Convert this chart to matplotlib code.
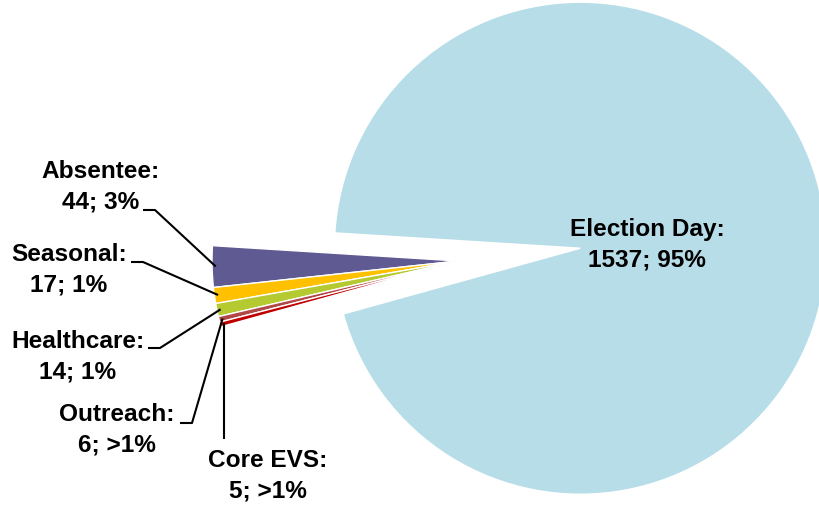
import numpy as np
import matplotlib
matplotlib.use('Agg')
from matplotlib import pyplot as plt

labels = ['Election Day', 'Absentee', 'Seasonal', 'Healthcare', 'Outreach', 'Core EVS']
values = [1537, 44, 17, 14, 6, 5]
pct_text = ['95%', '3%', '1%', '1%', '>1%', '>1%']
colors = ['#B7DDE8', '#5F5A91', '#FFC000', '#B5C930', '#B04848', '#C00000']

plt.rcParams['font.family'] = ['Liberation Sans Narrow', 'Liberation Sans', 'DejaVu Sans']

W, H = 819, 506
R = 246.0          # pie radius in pixels
cx, cy = 458, 262  # pie centre in pixels


def px(x, y):
    # pixel position -> data coordinates
    return (x - cx) / R, (cy - y) / R


fig = plt.figure(figsize=(W / 100, H / 100), dpi=100)
ax = fig.add_axes([0, 0, 1, 1])
wedges, _ = ax.pie(values, colors=colors, startangle=195.5, counterclock=True,
                   explode=[0.5, 0, 0, 0, 0, 0], radius=1,
                   wedgeprops=dict(edgecolor='white', linewidth=1.0))
x0, y1 = px(0, 0)
x1, y0 = px(W, H)
ax.set_xlim(x0, x1)
ax.set_ylim(y0, y1)
ax.set_aspect('equal')
ax.axis('off')

fs = 17.6
ls = 1.42
# big slice label
tx, ty = px(647, 245)
ax.text(tx, ty, f'{labels[0]}:\n{values[0]}; {pct_text[0]}', ha='center', va='center',
        fontsize=fs, fontweight='bold', linespacing=ls)

# small slice labels: text centre, start of leader, elbow
label_pos = {
    'Absentee': ((101, 187), (143, 211), (155, 211)),
    'Seasonal': ((69, 270), (131, 263), (143, 263)),
    'Healthcare': ((78, 357), (148, 349), (160, 349)),
    'Outreach': ((117, 430), (180, 424), (192, 424)),
    'Core EVS': ((268, 476), None, (224, 440)),
}

for i in range(1, len(values)):
    w = wedges[i]
    mid = np.deg2rad((w.theta1 + w.theta2) / 2)
    ex, ey = 0.985 * np.cos(mid), 0.985 * np.sin(mid)
    (lx, ly), start, elbow = label_pos[labels[i]]
    tx, ty = px(lx, ly)
    ax.text(tx, ty, f'{labels[i]}:\n{values[i]}; {pct_text[i]}', ha='center', va='center',
            fontsize=fs, fontweight='bold', linespacing=ls)
    pts = []
    if start is not None:
        pts.append(px(*start))
        pts.append(px(*elbow))
        pts.append((ex, ey))
    else:
        bx, by = px(*elbow)
        pts.append((bx, by))
        pts.append((bx, ey))
    xs, ys = zip(*pts)
    ax.plot(xs, ys, color='black', lw=1.5, solid_capstyle='butt')

fig.savefig('out.png', dpi=100)
